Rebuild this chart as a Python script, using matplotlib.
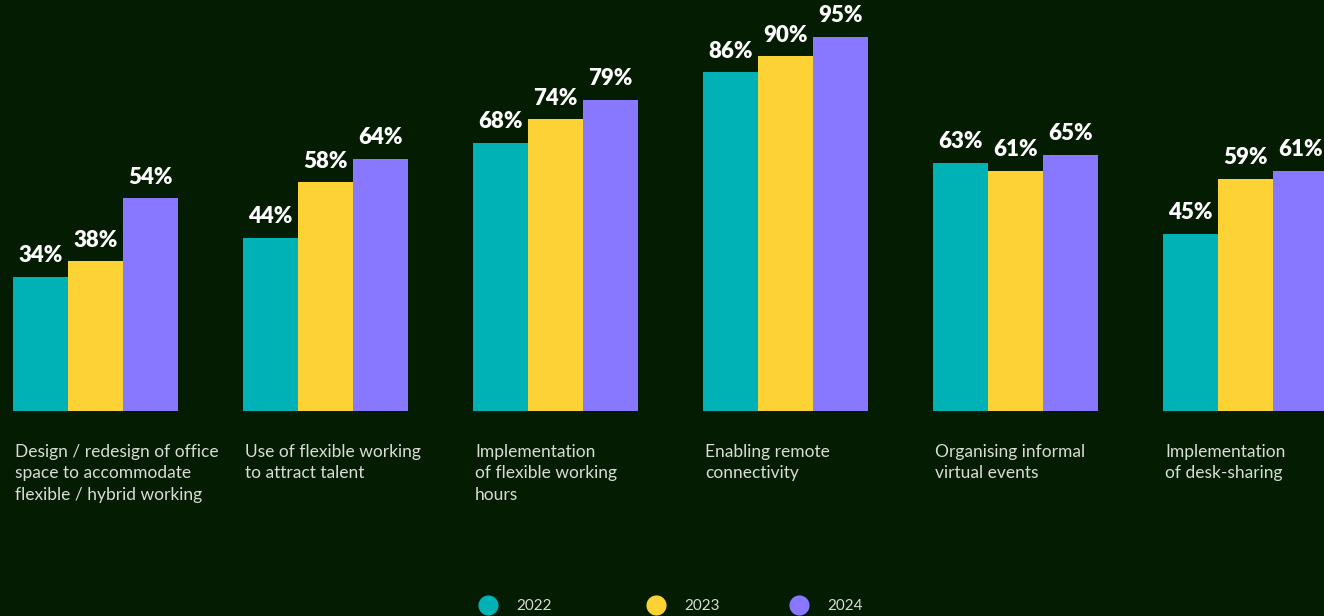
import numpy as np
import matplotlib
matplotlib.use("Agg")
import matplotlib.pyplot as plt
from matplotlib.lines import Line2D

categories = [
    "Design / redesign of office\nspace to accommodate\nflexible / hybrid working",
    "Use of flexible working\nto attract talent",
    "Implementation\nof flexible working\nhours",
    "Enabling remote\nconnectivity",
    "Organising informal\nvirtual events",
    "Implementation\nof desk-sharing",
]
years = ["2022", "2023", "2024"]
vals_2022 = [34, 44, 68, 86, 63, 45]
vals_2023 = [38, 58, 74, 90, 61, 59]
vals_2024 = [54, 64, 79, 95, 65, 61]

bg = "#031c02"
colors = ["#00b2b6", "#fcd235", "#8877ff"]

W, H = 1324, 616
fig = plt.figure(figsize=(W / 100, H / 100), dpi=100, facecolor=bg)
# axes span the full width; bars sit on a baseline 411px from the top
ax = fig.add_axes([0, 1 - 411 / H, 1, 411 / H])
ax.set_facecolor(bg)

step = 230.0  # px between groups
bw = 55 / step
x = np.arange(len(categories))
ax.set_xlim(-95.5 / step, (W - 95.5) / step)
ax.set_ylim(0, 411 / 3.94)
for s in ax.spines.values():
    s.set_visible(False)
ax.set_xticks([])
ax.set_yticks([])

series = [vals_2022, vals_2023, vals_2024]
for k, (vals, c) in enumerate(zip(series, colors)):
    pos = x + (k - 1) * bw
    bars = ax.bar(pos, vals, width=bw, color=c, linewidth=0, clip_on=False)
    for b, v in zip(bars, vals):
        ax.annotate(f"{v}%", (b.get_x() + b.get_width() / 2, v),
                    xytext=(0, 10.5), textcoords="offset points",
                    ha="center", va="baseline", color="white",
                    fontsize=16, fontweight="heavy", family="Lato",
                    annotation_clip=False)

# category labels under each group, left aligned
for i, lab in enumerate(categories):
    fx = (13 + step * i + 2) / W
    fig.text(fx, 1 - 444 / H, lab, ha="left", va="top", color="#d9dcd6",
             fontsize=12.5, family="Lato", linespacing=1.42)

# legend
leg_x = [488, 656, 799]
for lx, c, yr in zip(leg_x, colors, years):
    fig.add_artist(Line2D([lx / W], [1 - 605 / H], marker="o", markersize=14.5,
                          color=c, markeredgewidth=0, linestyle="none",
                          transform=fig.transFigure))
    fig.text((lx + 28) / W, 1 - 606 / H, yr, ha="left", va="center",
             color="#d9dcd6", fontsize=11, family="Lato")

fig.savefig("out.png", dpi=100, facecolor=bg)
